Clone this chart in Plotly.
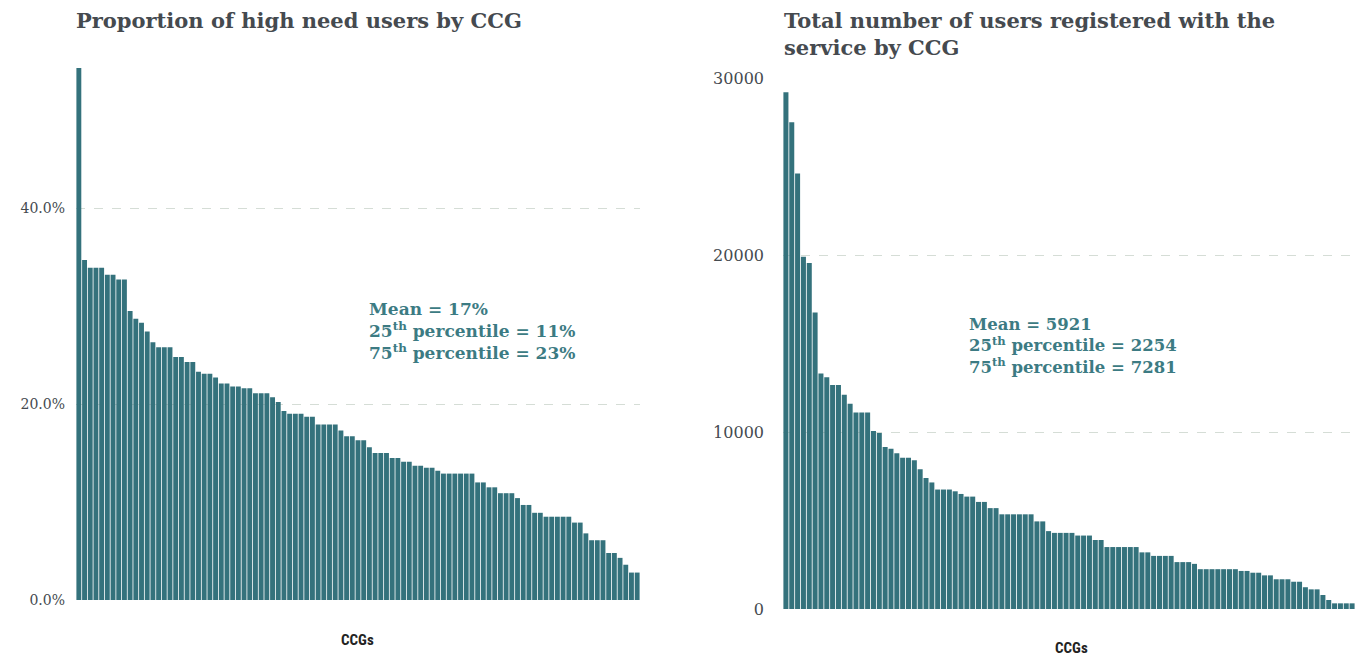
import plotly.graph_objects as go

# Left chart: proportion of high need users by CCG (%), sorted descending
high_need_pct = [
    54.3, 34.7, 33.9, 33.9, 33.9, 33.2, 33.2, 32.7, 32.7, 29.5,
    28.7, 28.3, 27.4, 26.3, 25.8, 25.8, 25.8, 24.8, 24.8, 24.3,
    24.3, 23.3, 23.1, 23.1, 22.7, 22.1, 22.1, 21.8, 21.8, 21.6,
    21.6, 21.1, 21.1, 21.1, 20.7, 20.2, 19.3, 19.0, 19.0, 19.0,
    18.7, 18.7, 17.9, 17.9, 17.9, 17.9, 17.3, 16.7, 16.7, 16.3,
    16.3, 15.6, 15.0, 15.0, 15.0, 14.5, 14.5, 14.1, 14.1, 13.7,
    13.7, 13.5, 13.5, 13.2, 12.9, 12.9, 12.9, 12.9, 12.9, 12.9,
    12.0, 12.0, 11.5, 11.5, 10.9, 10.9, 10.9, 10.4, 9.7, 9.7,
    8.9, 8.9, 8.5, 8.5, 8.5, 8.5, 8.5, 7.9, 7.9, 6.8,
    6.1, 6.1, 6.1, 4.8, 4.8, 4.3, 3.6, 2.8, 2.8,
]

# Right chart: total number of registered users by CCG, sorted descending
registered_users = [
    29200, 27500, 24600, 19900, 19550, 16750, 13300, 13100, 12650, 12650,
    12100, 11600, 11100, 11100, 11100, 10050, 9950, 9150, 9050, 8800,
    8550, 8550, 8400, 7900, 7400, 7150, 6750, 6750, 6750, 6650,
    6500, 6350, 6350, 6050, 6050, 5700, 5700, 5350, 5350, 5350,
    5350, 5350, 5350, 4950, 4950, 4400, 4300, 4300, 4300, 4300,
    4150, 4150, 4150, 3900, 3900, 3500, 3500, 3500, 3500, 3500,
    3500, 3200, 3200, 3000, 3000, 3000, 3000, 2650, 2650, 2650,
    2550, 2250, 2250, 2250, 2250, 2250, 2250, 2250, 2150, 2150,
    2050, 2050, 1900, 1900, 1680, 1680, 1680, 1540, 1540, 1230,
    1110, 1110, 790, 510, 320, 320, 320, 320,
]

left_title = "Proportion of high need users by CCG"
right_title = "Total number of users registered with the<br>service by CCG"
x_label = "CCGs"
left_stats = "Mean = 17%<br>25<sup>th</sup> percentile = 11%<br>75<sup>th</sup> percentile = 23%"
right_stats = "Mean = 5921<br>25<sup>th</sup> percentile = 2254<br>75<sup>th</sup> percentile = 7281"
left_ticks = [0, 20, 40]
left_tick_text = ["0.0%", "20.0%", "40.0%"]
right_ticks = [0, 10000, 20000, 30000]
right_tick_text = ["0", "10000", "20000", "30000"]

W, H = 1370, 656
BAR = "#34727c"
TEAL_TEXT = "#3c7b83"
TXT = "#454a4f"
GRID = "#d5ddd6"
SERIF = "DejaVu Serif, Liberation Serif, serif"
NARROW = "Liberation Sans Narrow, Arial Narrow, Roboto Condensed, Liberation Sans, sans-serif"


def fx(px):
    return px / W


def fy(py):
    return 1 - py / H


fig = go.Figure()
fig.add_trace(go.Bar(
    x=list(range(len(high_need_pct))), y=high_need_pct,
    marker=dict(color=BAR, line=dict(width=0)),
    xaxis="x", yaxis="y", showlegend=False, hoverinfo="y",
))
fig.add_trace(go.Bar(
    x=list(range(len(registered_users))), y=registered_users,
    marker=dict(color=BAR, line=dict(width=0)),
    xaxis="x2", yaxis="y2", showlegend=False, hoverinfo="y",
))

axis_common_x = dict(showgrid=False, zeroline=False, showticklabels=False,
                     ticks="", showline=False, fixedrange=True)

fig.update_layout(
    width=W, height=H, autosize=False,
    margin=dict(l=0, r=0, t=0, b=0, pad=0),
    paper_bgcolor="white", plot_bgcolor="white",
    bargap=0.14,
    xaxis=dict(domain=[fx(76), fx(640)], range=[-0.5, len(high_need_pct) - 0.5],
               anchor="y", **axis_common_x),
    yaxis=dict(domain=[fy(600), fy(66)], range=[0, 54.5], anchor="x",
               tickvals=left_ticks, ticktext=left_tick_text, ticklabelstandoff=10,
               showgrid=True, gridcolor=GRID, griddash="dash", gridwidth=1,
               zeroline=False, showline=False, ticks="", automargin=False,
               tickfont=dict(family=SERIF, size=14, color=TXT), fixedrange=True),
    xaxis2=dict(domain=[fx(783), fx(1355)], range=[-0.5, len(registered_users) - 0.5],
                anchor="y2", **axis_common_x),
    yaxis2=dict(domain=[fy(609), fy(78)], range=[0, 30000], anchor="x2",
                tickvals=right_ticks, ticktext=right_tick_text, ticklabelstandoff=18,
                showgrid=True, gridcolor=GRID, griddash="dash", gridwidth=1,
                zeroline=False, showline=False, ticks="", automargin=False,
                tickfont=dict(family=SERIF, size=16, color=TXT), fixedrange=True),
)

annotations = [
    dict(text=f"<b>{left_title}</b>", x=fx(74), y=fy(21), xanchor="left", yanchor="middle",
         font=dict(family=SERIF, size=21, color=TXT)),
    dict(text=f"<b>{right_title}</b>", x=fx(782), y=fy(6), xanchor="left", yanchor="top",
         align="left", font=dict(family=SERIF, size=21, color=TXT)),
    dict(text=f"<b>{left_stats}</b>", x=fx(367), y=fy(297), xanchor="left", yanchor="top",
         align="left", font=dict(family=SERIF, size=17, color=TEAL_TEXT)),
    dict(text=f"<b>{right_stats}</b>", x=fx(967), y=fy(313), xanchor="left", yanchor="top",
         align="left", font=dict(family=SERIF, size=16.5, color=TEAL_TEXT)),
    dict(text=f"<b>{x_label}</b>", x=fx(357), y=fy(640), xanchor="center", yanchor="middle",
         font=dict(family=NARROW, size=15, color="#222")),
    dict(text=f"<b>{x_label}</b>", x=fx(1071), y=fy(648), xanchor="center", yanchor="middle",
         font=dict(family=NARROW, size=15, color="#222")),
]
for a in annotations:
    a.update(xref="paper", yref="paper", showarrow=False)
fig.update_layout(annotations=annotations)

fig.write_html(
    "out.html",
    config={"displayModeBar": False},
    post_script="document.body.style.margin='0px';document.body.style.padding='0px';",
)
